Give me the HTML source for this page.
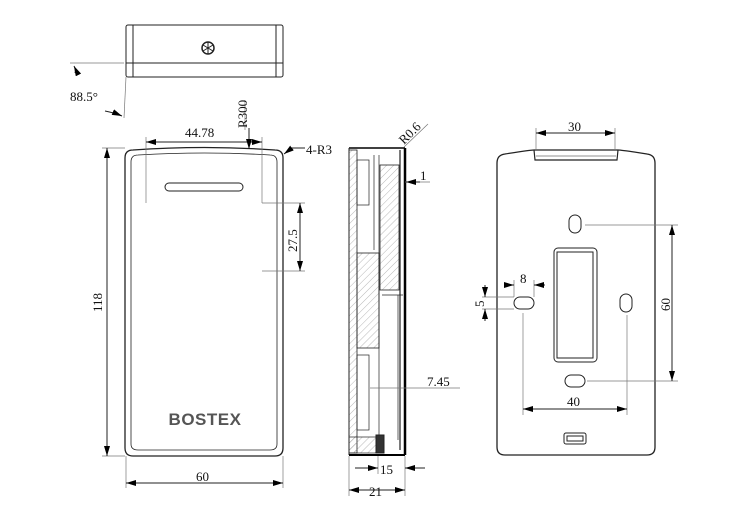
<!DOCTYPE html>
<html><head><style>html,body{margin:0;padding:0;background:#fff}svg{display:block}text{font-family:"Liberation Serif",serif;fill:#111}</style></head>
<body>
<svg width="750" height="518" viewBox="0 0 750 518" xmlns="http://www.w3.org/2000/svg">
<defs>
<marker id="a" viewBox="0 0 10 6" refX="10" refY="3" markerWidth="10" markerHeight="6" orient="auto-start-reverse" markerUnits="userSpaceOnUse"><path d="M0,0L10,3L0,6z" fill="#000"/></marker>
<pattern id="h" width="5" height="5" patternUnits="userSpaceOnUse" patternTransform="rotate(45)"><line x1="0" y1="0" x2="0" y2="5" stroke="#888" stroke-width="0.6"/></pattern>
</defs>
<g fill="none" stroke="#222" stroke-width="1">
<!-- top view -->
<rect x="126" y="25" width="157" height="52" rx="2"/>
<line x1="133" y1="25" x2="133" y2="77"/><line x1="276" y1="25" x2="276" y2="77"/>
<line x1="126" y1="63" x2="283" y2="63"/>
<circle cx="208" cy="48" r="6" stroke-width="1.5"/>
<path d="M203,45L213,51M203,51L213,45M208,42V54" stroke-width="1"/>
<line x1="70" y1="63" x2="124" y2="63" stroke="#777" stroke-width="0.7"/>
<line x1="126" y1="77" x2="124" y2="118" stroke="#777" stroke-width="0.7"/>
<path d="M74,66 Q76,70 75,73" marker-start="url(#a)"/>
<path d="M105,111 Q115,113 122,116" marker-end="url(#a)"/>
<!-- front -->
<path d="M125,158 Q125,150 133,150 Q205,145 275,150 Q283,150 283,158 L283,448 Q283,456 275,456 L133,456 Q125,456 125,448Z" stroke-width="1.3"/>
<path d="M131,162 Q131,155 138,155 Q205,151 270,155 Q277,155 277,162 L277,444 Q277,450 270,450 L138,450 Q131,450 131,444Z" stroke-width="0.8"/>
<rect x="165" y="183" width="78" height="8" rx="4"/>
<g stroke="#777" stroke-width="0.7">
<line x1="146" y1="137" x2="146" y2="203"/><line x1="262" y1="137" x2="262" y2="203"/>
<line x1="262" y1="203" x2="305" y2="203"/><line x1="262" y1="271" x2="305" y2="271"/>
<line x1="102" y1="148" x2="125" y2="148"/><line x1="102" y1="456" x2="125" y2="456"/>
<line x1="126" y1="456" x2="126" y2="488"/><line x1="283" y1="456" x2="283" y2="488"/>
<line x1="245" y1="100" x2="245" y2="130"/>
</g>
<line x1="146" y1="142" x2="262" y2="142" marker-start="url(#a)" marker-end="url(#a)"/>
<line x1="300" y1="203" x2="300" y2="271" marker-start="url(#a)" marker-end="url(#a)"/>
<line x1="107" y1="148" x2="107" y2="456" marker-start="url(#a)" marker-end="url(#a)"/>
<line x1="126" y1="483" x2="283" y2="483" marker-start="url(#a)" marker-end="url(#a)"/>
<line x1="249" y1="128" x2="249" y2="149" marker-end="url(#a)"/>
<line x1="305" y1="148" x2="292" y2="148"/><line x1="292" y1="148" x2="284" y2="154" marker-end="url(#a)"/>
<!-- side -->
<rect x="349" y="150" width="8" height="303" fill="url(#h)" stroke-width="0.8"/>
<rect x="357" y="253" width="22" height="95" fill="url(#h)" stroke-width="0.8"/>
<rect x="380" y="165" width="19" height="125" fill="url(#h)" stroke-width="0.8"/>
<rect x="357" y="160" width="12" height="45" stroke-width="0.7"/>
<rect x="357" y="355" width="12" height="75" stroke-width="0.7"/>
<line x1="379" y1="155" x2="379" y2="445" stroke-width="0.7"/>
<line x1="374" y1="155" x2="374" y2="250" stroke-width="0.7"/>
<line x1="398" y1="295" x2="398" y2="440" stroke-width="0.7"/>
<line x1="382" y1="295" x2="403" y2="295" stroke-width="0.7"/>
<line x1="400" y1="150" x2="400" y2="450" stroke-width="1.2"/>
<line x1="405" y1="148" x2="405" y2="455" stroke-width="2.5" stroke="#000"/>
<rect x="349" y="437" width="30" height="16" fill="url(#h)" stroke-width="0.7"/>
<rect x="376" y="435" width="8" height="18" fill="#333"/>
<line x1="349" y1="148" x2="405" y2="148" stroke-width="1.5" stroke="#000"/>
<line x1="349" y1="148" x2="349" y2="455" stroke-width="1"/>
<line x1="349" y1="455" x2="405" y2="455" stroke-width="2" stroke="#000"/>
<g stroke="#777" stroke-width="0.7">
<line x1="349" y1="456" x2="349" y2="496"/><line x1="405" y1="456" x2="405" y2="496"/>
<line x1="378" y1="456" x2="378" y2="474"/>
<line x1="370" y1="388" x2="460" y2="388"/>
<line x1="405" y1="182" x2="430" y2="182"/>
<line x1="404" y1="147" x2="428" y2="124"/>
</g>
<line x1="355" y1="468" x2="378" y2="468" marker-end="url(#a)"/><line x1="425" y1="468" x2="405" y2="468" marker-end="url(#a)"/>
<line x1="349" y1="490" x2="405" y2="490" marker-start="url(#a)" marker-end="url(#a)"/>
<line x1="420" y1="182" x2="406" y2="182" marker-end="url(#a)"/>
<!-- back -->
<path d="M497,163 Q497,155 505,154 Q530,150 534,150 L618,150 Q622,150 647,154 Q655,155 655,163 L655,447 Q655,455 647,455 L505,455 Q497,455 497,447Z" stroke-width="1.3"/>
<path d="M534,150 L535,160 L617,160 L618,150" stroke-width="1.2"/>
<line x1="536" y1="156" x2="616" y2="156" stroke-width="0.6"/>
<rect x="569" y="215" width="12" height="18" rx="6"/>
<rect x="554" y="248" width="43" height="114" rx="4"/>
<rect x="557" y="252" width="36" height="106"/>
<rect x="514" y="297" width="20" height="12" rx="6"/>
<rect x="620" y="294" width="12" height="18" rx="6"/>
<rect x="565" y="375" width="20" height="12" rx="6"/>
<rect x="564" y="433" width="22" height="11" rx="2"/><rect x="567" y="436" width="16" height="5"/>
<g stroke="#777" stroke-width="0.7">
<line x1="536" y1="128" x2="536" y2="150"/><line x1="615" y1="128" x2="615" y2="150"/>
<line x1="585" y1="225" x2="678" y2="225"/><line x1="587" y1="381" x2="678" y2="381"/>
<line x1="523" y1="313" x2="523" y2="415"/><line x1="627" y1="315" x2="627" y2="415"/>
<line x1="514" y1="280" x2="514" y2="297"/><line x1="534" y1="280" x2="534" y2="297"/>
<line x1="482" y1="297" x2="514" y2="297"/><line x1="482" y1="309" x2="514" y2="309"/>
</g>
<line x1="536" y1="133" x2="615" y2="133" marker-start="url(#a)" marker-end="url(#a)"/>
<line x1="672" y1="225" x2="672" y2="381" marker-start="url(#a)" marker-end="url(#a)"/>
<line x1="523" y1="409" x2="627" y2="409" marker-start="url(#a)" marker-end="url(#a)"/>
<line x1="504" y1="285" x2="514" y2="285" marker-end="url(#a)"/><line x1="545" y1="285" x2="534" y2="285" marker-end="url(#a)"/>
<line x1="485" y1="285" x2="485" y2="297" marker-end="url(#a)"/><line x1="485" y1="321" x2="485" y2="309" marker-end="url(#a)"/>
</g>
<g font-size="13">
<text x="70" y="101">88.5°</text>
<text x="185" y="137">44.78</text>
<text x="306" y="154">4-R3</text>
<text x="247" y="128" transform="rotate(-90 247 128)">R300</text>
<text x="297" y="252" transform="rotate(-90 297 252)">27.5</text>
<text x="102" y="312" transform="rotate(-90 102 312)">118</text>
<text x="196" y="481">60</text>
<text x="404" y="145" transform="rotate(-45 404 145)">R0.6</text>
<text x="420" y="180">1</text>
<text x="427" y="386">7.45</text>
<text x="380" y="474">15</text>
<text x="369" y="496">21</text>
<text x="568" y="131">30</text>
<text x="520" y="283">8</text>
<text x="484" y="307" transform="rotate(-90 484 307)">5</text>
<text x="670" y="311" transform="rotate(-90 670 311)">60</text>
<text x="567" y="406">40</text>
</g>
<text x="205" y="425" text-anchor="middle" style="font-family:'Liberation Sans',sans-serif;font-weight:bold;font-size:17px;fill:#555;letter-spacing:0.5px">BOSTEX</text>
</svg>
</body></html>
